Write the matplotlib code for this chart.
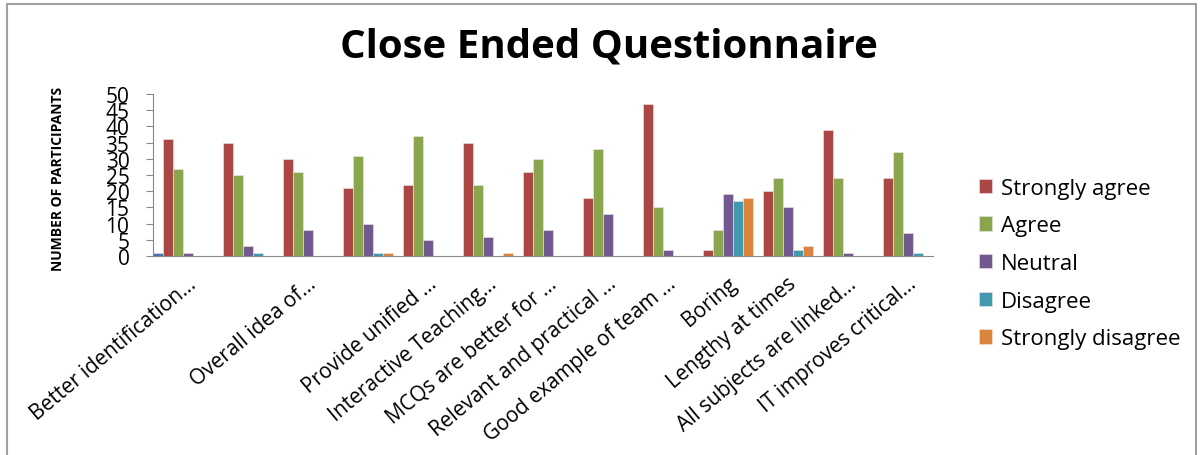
import numpy as np
import matplotlib
matplotlib.use("Agg")
import matplotlib.pyplot as plt
import matplotlib.transforms as mtransforms
from matplotlib import font_manager
from matplotlib.patches import Rectangle

plt.rcParams['font.family'] = ['Open Sans', 'DejaVu Sans']

# schmale Schrift fuer die y-Beschriftung, falls vorhanden
namen = {f.name for f in font_manager.fontManager.ttflist}
if "Liberation Sans Narrow" in namen:
    schmal = ["Liberation Sans Narrow"]
    schmal_groesse = 11.5
else:
    schmal = ["Open Sans"]
    schmal_groesse = 10

# Daten
kategorien = ["Better identification\u2026", "", "Overall idea of\u2026", "",
              "Provide unified \u2026", "Interactive Teaching\u2026", "MCQs are better for \u2026",
              "Relevant and practical \u2026", "Good example of team \u2026", "Boring",
              "Lengthy at times", "All subjects are linked\u2026", "IT improves critical\u2026"]

ohne_name = [1, 0, 0, 0, 0, 0, 0, 0, 0, 0, 0, 0, 0]
strongly_agree = [36, 35, 30, 21, 22, 35, 26, 18, 47, 2, 20, 39, 24]
agree = [27, 25, 26, 31, 37, 22, 30, 33, 15, 8, 24, 24, 32]
neutral = [1, 3, 8, 10, 5, 6, 8, 13, 2, 19, 15, 1, 7]
disagree = [0, 1, 0, 1, 0, 0, 0, 0, 0, 17, 2, 0, 1]
strongly_disagree = [0, 0, 0, 1, 0, 1, 0, 0, 0, 18, 3, 0, 0]

serien = [
    (ohne_name, "#4572A7", None),
    (strongly_agree, "#AA4643", "Strongly agree"),
    (agree, "#89A54E", "Agree"),
    (neutral, "#71588F", "Neutral"),
    (disagree, "#4198AF", "Disagree"),
    (strongly_disagree, "#DB843D", "Strongly disagree"),
]

fig = plt.figure(figsize=(12.03, 4.56), dpi=100)
ax = fig.add_axes([0.1272, 0.4364, 0.6484, 0.3553])

# Rahmen um das ganze Diagramm
fig.patches.append(Rectangle((0.006, -0.01), 0.988, 1.0, transform=fig.transFigure,
                             fill=False, edgecolor="#A0A0A0", linewidth=1.5))

x = np.arange(len(kategorien))
n = len(serien)
breite = 1.0 / n
for k, (werte, farbe, name) in enumerate(serien):
    pos = x - 0.5 + (k + 0.5) * breite
    ax.bar(pos, werte, width=breite * 0.95, color=farbe, edgecolor="#F2E6E6",
           linewidth=0.4, label=name if name else "_nolegend_")

ax.set_xlim(-0.5, len(kategorien) - 0.5)
ax.set_ylim(0, 50)
ax.set_yticks(np.arange(0, 51, 5))
ax.tick_params(axis="y", labelsize=15, length=5, color="#888888", pad=12)
ax.tick_params(axis="x", length=0)
for s in ["top", "right"]:
    ax.spines[s].set_visible(False)
ax.spines["left"].set_color("#888888")
ax.spines["bottom"].set_color("#888888")

ax.set_xticks(x)
ax.set_xticklabels(kategorien, rotation=40, ha="right", rotation_mode="anchor", fontsize=15)
verschiebung = mtransforms.ScaledTranslation(0.04, -0.12, fig.dpi_scale_trans)
for lab in ax.get_xticklabels():
    lab.set_transform(lab.get_transform() + verschiebung)

fig.text(0.048, 0.607, "NUMBER OF PARTICIPANTS", rotation=90, fontsize=schmal_groesse,
         fontweight="bold", family=schmal, ha="center", va="center")
fig.text(0.506, 0.897, "Close Ended Questionnaire", fontsize=29, fontweight="bold",
         ha="center", va="center")

fig.legend(loc="center left", bbox_to_anchor=(0.797, 0.42), frameon=False, fontsize=16,
           handlelength=0.6, handleheight=0.6, handletextpad=0.4, labelspacing=0.75)

fig.savefig("out.png", dpi=100)
